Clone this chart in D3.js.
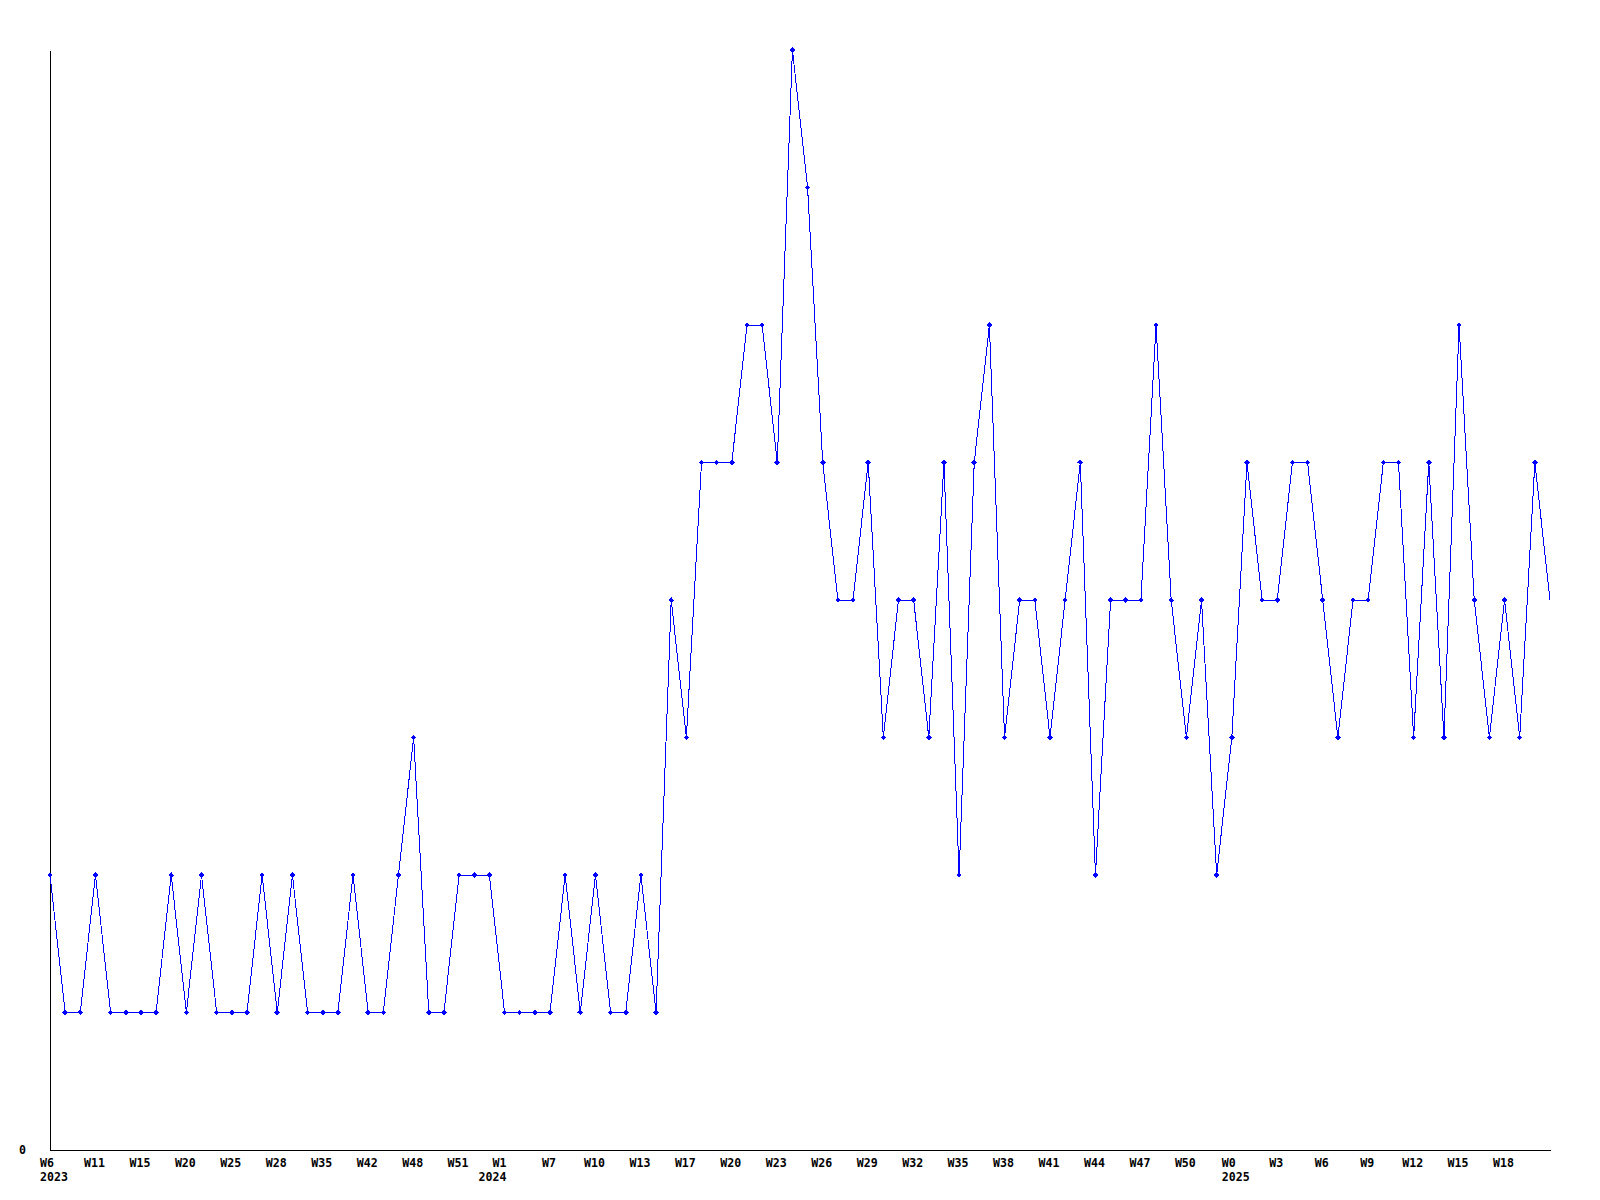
<!DOCTYPE html>
<html>
<head>
<meta charset="utf-8">
<script src="https://cdn.jsdelivr.net/npm/d3@7"></script>
<style>
  html, body { margin: 0; padding: 0; background: #fff; }
  svg { display: block; }
  .tick text, .ylab { font-family: "DejaVu Sans Mono", monospace; font-weight: bold; font-size: 11.6px; fill: #000; }
</style>
</head>
<body>
<script>
// ---- data ----
const values = [
  2,1,1,2,1,1,1,1,2,1,
  2,1,1,1,2,1,2,1,1,1,
  2,1,1,2,3,1,1,2,2,2,
  1,1,1,1,2,1,2,1,1,2,
  1,4,3,5,5,5,6,6,5,8,
  7,5,4,4,5,3,4,4,3,5,
  2,5,6,3,4,4,3,4,5,2,
  4,4,4,6,4,3,4,2,3,5,
  4,4,5,5,4,3,4,4,5,5,
  3,5,3,6,4,3,4,3,5,4
];
const tickEvery = 3;
const tickLabels = ["W6","W11","W15","W20","W25","W28","W35","W42","W48","W51",
  "W1","W7","W10","W13","W17","W20","W23","W26","W29","W32","W35","W38","W41",
  "W44","W47","W50","W0","W3","W6","W9","W12","W15","W18"];
const yearTickIdx = [0, 10, 26];
const yearLabels = ["2023", "2024", "2025"];
const yearAnchors = ["start", "end", "start"];
const yTicks = [0];
const yMax = 8;

// ---- chart ----
const W = 1600, H = 1200;
const svg = d3.select("body").append("svg").attr("width", W).attr("height", H);

const x = d3.scaleLinear().domain([0, values.length - 1]).range([50, 1550]);
const y = d3.scaleLinear().domain([0, yMax]).range([1150, 50]);

const tickIdx = tickLabels.map((_, i) => i * tickEvery);

// x axis
const xAxis = d3.axisBottom(x)
  .tickValues(tickIdx)
  .tickSize(0)
  .tickSizeOuter(0)
  .tickPadding(9)
  .tickFormat((d, i) => tickLabels[i]);
const gx = svg.append("g").attr("transform", "translate(0,1150)").call(xAxis);
gx.select(".domain").attr("stroke", "#000").attr("shape-rendering", "crispEdges");
gx.selectAll(".tick text").attr("dx", -1.5);

// two-line labels (week + year)
gx.selectAll(".tick").each(function(d, i) {
  const k = yearTickIdx.indexOf(i);
  if (k < 0) return;
  const t = d3.select(this).select("text");
  const wk = tickLabels[i];
  t.text(null).attr("dx", null).attr("text-anchor", yearAnchors[k]);
  const off = yearAnchors[k] === "start" ? -10.5 : 1.5;
  t.append("tspan").attr("x", 0).attr("dx", off).text(wk);
  t.append("tspan").attr("x", 0).attr("dx", off).attr("dy", "1.22em").text(yearLabels[k]);
});

// y axis
const yAxis = d3.axisLeft(y).tickValues(yTicks).tickSize(0).tickSizeOuter(0).tickPadding(24).tickFormat(d3.format("d"));
const gy = svg.append("g").attr("transform", "translate(50,0)").call(yAxis);
gy.select(".domain").attr("stroke", "#000").attr("shape-rendering", "crispEdges");

// line
const line = d3.line().x((d, i) => x(i)).y(d => y(d));
svg.append("path")
  .datum(values)
  .attr("fill", "none")
  .attr("stroke", "#0000ff")
  .attr("stroke-width", 1)
  .attr("shape-rendering", "crispEdges")
  .attr("d", line);

// markers (all but last point)
const marker = d3.symbol().type(d3.symbolDiamond2).size(20);
svg.append("g").selectAll("path")
  .data(values.slice(0, values.length - 1))
  .join("path")
  .attr("transform", (d, i) => `translate(${x(i)},${y(d)})`)
  .attr("d", marker)
  .attr("fill", "#0000ff")
  .attr("shape-rendering", "crispEdges");
</script>
</body>
</html>
